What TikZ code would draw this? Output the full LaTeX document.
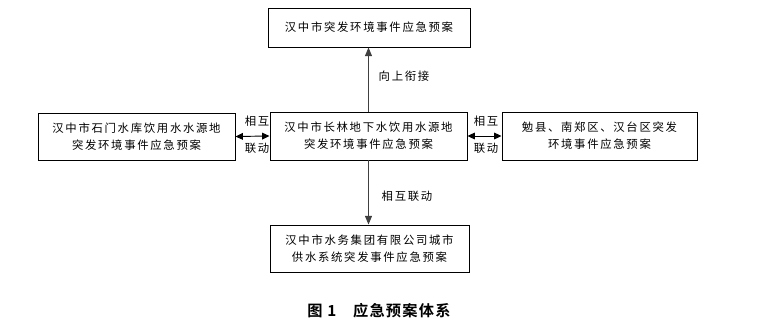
\documentclass[tikz,border=0pt]{standalone}
\usepackage{fontspec}
\usepackage{tikz}
\usetikzlibrary{positioning,arrows.meta}
\newfontfamily\cjk[LetterSpace=15]{Noto Sans CJK SC}
\newfontfamily\cjkbf[LetterSpace=8]{Noto Sans CJK SC Bold}

\begin{document}
\begin{tikzpicture}[x=0.03cm,y=-0.03cm,
  plan/.style={draw,thick,align=center,inner sep=0pt,font=\fontsize{9.7}{14.8}\selectfont\cjk},
  lbl/.style={align=center,inner sep=0pt,font=\fontsize{9.7}{14.8}\selectfont\cjk},
  link/.style={thick,black!75,-{Triangle[length=2.6mm,width=2.1mm]}},
  dlink/.style={thick,{Triangle[length=2.2mm,width=2mm]}-{Triangle[length=2.2mm,width=2mm]}}]
\useasboundingbox (0,0) rectangle (759,329);
% plans
\node[plan,minimum width=6.06cm,minimum height=1.17cm] (city) at (369,27.5) {汉中市突发环境事件应急预案};
\node[plan,minimum width=5.91cm,minimum height=1.41cm] (shimen) at (136.5,136.5)
  {汉中市石门水库饮用水水源地\\突发环境事件应急预案};
\node[plan,minimum width=5.91cm,minimum height=1.44cm] (changlin) at (368.5,136)
  {汉中市长林地下水饮用水源地\\突发环境事件应急预案};
\node[plan,minimum width=5.85cm,minimum height=1.44cm] (county) at (599.5,136)
  {勉县、南郑区、汉台区突发\\环境事件应急预案};
\node[plan,minimum width=5.97cm,minimum height=1.41cm] (water) at (369.5,248.5)
  {汉中市水务集团有限公司城市\\供水系统突发事件应急预案};
% links
\draw[link] (changlin.north) -- (changlin.north |- city.south);
\draw[link] (changlin.south) -- (changlin.south |- water.north);
\draw[dlink] (shimen.east) -- (changlin.west);
\draw[dlink] (changlin.east) -- (county.west);
% labels
\node[lbl] (up) at (404,76) {向上衔接};
\node[lbl] (down) at (407,196) {相互联动};
\node[lbl] (lfa) at (257,121) {相互};
\node[lbl] (lfb) at (257,148) {联动};
\node[lbl] (rta) at (486,121) {相互};
\node[lbl] (rtb) at (486,148) {联动};
% caption
\node[inner sep=0pt,font=\fontsize{13}{15}\selectfont\cjkbf] (cap) at (379,311) {图 1\hspace{1.1em}应急预案体系};
\end{tikzpicture}
\end{document}
